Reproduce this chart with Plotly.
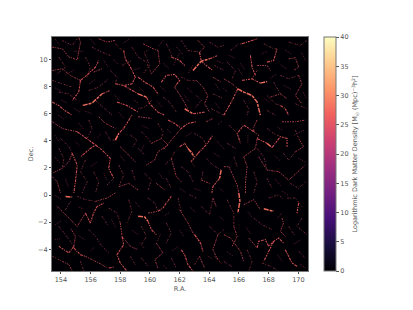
import plotly.graph_objects as go
from plotly.colors import sample_colorscale

x_ticks = list(range(154, 171, 2))
y_ticks = list(range(-4, 11, 2))
cb_ticks = list(range(0, 41, 5))
x_range = [153.4, 170.65]
y_range = [-5.6, 11.65]

# Filaments: [ (RA, Dec), ... ]
bright = [
 [(155.47,6.61),(156.10,6.78),(156.77,7.46)],
 [(165.92,7.83),(166.32,7.59),(166.88,7.34),(167.22,6.85),(167.44,5.89)],
 [(162.9,9.18),(163.46,9.87),(164.02,10.04)],
 [(167.44,8.25),(167.89,8.37)],
 [(157.67,4.05),(157.9,4.54)],
 [(159.2,-1.57),(159.65,-1.62),(159.87,-1.94)],
 [(167.67,-1.01),(168.0,-1.08),(168.34,-1.2)],
 [(165.99,0.15),(166.06,-0.47),(165.92,-1.33)],
 [(167.89,3.81),(168.23,3.51)],
 [(162.34,6.36),(162.9,5.99)],
 [(162.56,3.44),(163.0,2.82)],
 [(164.8,1.84),(164.69,1.23)],
 [(154.31,-0.1),(154.76,-0.15)],
 [(159.2,7.46),(159.76,7.22)],
]
mid = [
 [(156.77,7.46),(157.33,7.71)],
 [(153.42,6.85),(153.86,6.6),(154.31,6.19),(154.76,5.89)],
 [(155.32,8.45),(155.65,8.74),(156.33,9.43),(156.55,9.92)],
 [(155.32,8.45),(155.2,7.59),(154.76,6.97)],
 [(158.23,10.66),(158.34,10.04),(158.68,9.43),(159.01,8.69),(158.79,8.2),(158.23,8.08)],
 [(157.67,8.2),(158.23,8.08),(159.2,7.47)],
 [(157.78,6.85),(158.45,6.6),(159.2,6.11)],
 [(164.02,10.04),(164.58,10.29)],
 [(163.34,10.53),(163.46,9.87),(163.79,9.55),(164.24,9.18)],
 [(161.44,10.17),(162.0,9.92),(162.34,9.55)],
 [(159.2,8.69),(159.65,8.32),(160.21,7.96),(160.54,7.46)],
 [(160.77,8.32),(161.1,8.82),(161.66,8.89),(162.0,8.45),(161.66,7.96)],
 [(159.76,7.22),(159.98,6.73),(160.54,6.11),(160.99,5.89)],
 [(162.9,5.99),(163.68,6.11)],
 [(165.92,7.83),(165.54,6.97),(164.98,5.89)],
 [(166.77,10.29),(166.88,9.43),(167.11,8.82)],
 [(166.21,11.15),(166.88,11.4),(167.22,11.52)],
 [(167.89,9.8),(168.34,9.92),(168.56,10.78)],
 [(166.21,8.45),(166.88,8.57),(167.44,8.25)],
 [(168.79,6.6),(169.12,6.36),(169.35,5.89)],
 [(158.23,4.91),(158.57,5.53),(158.79,5.895)],
 [(157.67,4.05),(157.9,4.54),(158.23,4.91)],
 [(155.1,4.67),(155.77,4.17),(156.33,3.69),(155.99,3.44),(155.32,2.82)],
 [(156.33,3.69),(156.77,3.32),(157.33,2.7),(157.22,1.97),(157.56,1.23)],
 [(154.76,3.07),(155.1,2.21),(154.98,0.98),(154.87,0.15)],
 [(161.22,5.53),(161.66,5.28),(162.11,4.91),(162.56,5.28),(163.12,5.4)],
 [(162.0,3.56),(162.34,3.81),(162.56,3.44),(162.9,3.07)],
 [(163.23,3.07),(162.78,2.46)],
 [(164.69,1.23),(164.24,0.62),(164.17,0.15)],
 [(163.23,3.07),(163.79,3.69),(164.24,4.42)],
 [(167.22,4.17),(167.89,3.81)],
 [(168.23,3.51),(168.79,4.3),(169.24,4.17),(169.24,3.56)],
 [(167.0,4.67),(166.32,5.16),(165.88,4.54),(166.1,3.81)],
 [(155.65,-1.33),(155.99,-2.06),(156.2,-1.33),(156.44,-0.84),(156.89,-0.59)],
 [(154.87,-3.9),(155.32,-4.4),(155.65,-4.52)],
 [(154.87,-3.78),(154.54,-4.27),(153.86,-3.78)],
 [(158.12,-3.05),(158.23,-3.66),(157.78,-4.4),(158.0,-5.01),(158.45,-5.6)],
 [(159.87,-1.94),(160.1,-2.55),(160.43,-2.92)],
 [(160.54,-1.2),(160.88,-0.96),(161.1,-0.59),(161.44,-0.1)],
 [(162.11,-4.03),(162.34,-4.4),(162.56,-5.13),(162.9,-5.6)],
 [(163.01,-2.92),(163.41,-3.54),(163.57,-4.15)],
 [(167.22,-3.9),(167.33,-3.41),(167.78,-3.29),(168.0,-3.78),(168.34,-3.41),(168.68,-3.17),(169.0,-3.54)],
 [(168.34,-3.41),(167.89,-4.4),(167.67,-4.89)],
 [(169.12,-4.03),(169.57,-5.01),(169.91,-5.25)],
 [(170.02,-0.59),(169.91,-1.33)],
 [(157.22,-5.38),(157.56,-5.31)],
]
faint = [
 [(153.42,10.9),(154.09,10.78),(154.54,10.17),(155.1,9.97),(155.32,11.27),(155.2,11.64)],
 [(153.42,9.18),(154.09,9.31),(154.65,8.8),(155.32,8.45)],
 [(156.2,9.06),(156.77,9.31)],
 [(156.55,11.52),(157.11,11.27),(157.67,11.4)],
 [(160.54,10.66),(160.66,9.67),(160.1,8.94)],
 [(159.54,11.15),(160.21,10.78),(160.54,10.66)],
 [(161.66,7.96),(162.11,7.22),(162.56,6.36)],
 [(163.12,8.45),(163.57,7.96),(163.9,7.34),(163.68,6.73),(164.02,6.11)],
 [(164.24,8.69),(164.8,8.32)],
 [(163.23,11.4),(163.68,10.9),(163.34,10.53)],
 [(167.22,9.55),(167.89,9.55),(168.12,9.18)],
 [(169.35,10.04),(169.8,10.12),(170.02,9.43),(169.68,9.18)],
 [(170.02,8.82),(170.24,8.2),(169.8,7.34),(170.24,6.73)],
 [(164.98,8.57),(165.54,8.2),(165.92,7.83)],
 [(168.12,7.22),(168.79,7.46),(169.24,7.1)],
 [(154.76,3.07),(154.54,2.46),(154.09,1.97),(153.42,1.6)],
 [(153.42,5.4),(154.09,4.91),(154.54,4.79),(155.1,4.67)],
 [(158.0,3.56),(158.45,3.07),(159.01,2.46)],
 [(157.9,0.62),(158.57,0.86),(159.2,0.37)],
 [(153.42,1.35),(153.75,0.98),(153.97,0.15)],
 [(156.55,5.77),(157.0,5.28),(157.67,4.91)],
 [(160.1,3.81),(160.77,4.17),(161.22,3.69),(160.54,3.19),(160.32,2.58),(159.76,2.21)],
 [(163.79,5.4),(164.24,5.65)],
 [(161.44,2.7),(161.78,1.35),(162.11,0.98)],
 [(163.46,1.1),(164.02,0.86)],
 [(162.11,4.91),(161.55,4.17),(160.88,3.32)],
 [(159.2,5.77),(160.1,5.65)],
 [(160.43,0.86),(160.99,0.37)],
 [(167.0,4.67),(167.33,4.42),(167.22,4.17),(167.11,3.44),(166.32,2.82)],
 [(167.22,5.53),(167.0,5.04),(167.0,4.67)],
 [(168.9,5.4),(169.8,5.4),(170.47,5.53)],
 [(164.98,2.09),(165.32,2.09),(165.88,0.74),(165.99,0.15)],
 [(166.32,2.82),(166.55,2.09),(166.44,0.98),(166.44,0.15)],
 [(168.68,1.72),(169.35,1.1),(170.47,2.21)],
 [(169.8,3.19),(170.36,3.56),(170.02,4.17)],
 [(167.33,2.82),(167.89,1.84),(168.68,1.72)],
 [(153.75,-0.84),(154.2,-1.33),(155.1,-2.31),(155.65,-1.33)],
 [(154.87,-3.78),(154.98,-3.05),(154.65,-2.43)],
 [(158.0,-2.06),(158.12,-3.05),(158.68,-3.78),(159.2,-4.03)],
 [(155.65,-4.52),(156.33,-4.89),(156.77,-5.13),(157.11,-5.38)],
 [(154.09,-4.89),(154.54,-5.13),(154.76,-5.6)],
 [(156.33,-0.47),(157.11,-0.22),(157.67,0.15)],
 [(159.87,-1.33),(160.54,-1.2)],
 [(162.0,-1.08),(162.56,-2.06),(162.9,-2.8),(163.34,-3.42)],
 [(164.24,-0.22),(164.46,-0.84)],
 [(160.43,-3.54),(160.88,-4.27),(160.32,-4.77),(160.54,-5.38)],
 [(164.58,-2.92),(164.24,-4.03),(164.58,-4.77)],
 [(163.34,-4.52),(163.68,-5.38)],
 [(168.9,-1.7),(169.0,-2.06),(168.79,-2.68),(169.12,-3.05)],
 [(165.65,-2.31),(165.88,-3.05),(165.54,-3.78)],
 [(166.32,-0.71),(167.0,-0.34),(167.44,-1.08)],
 [(164.98,-2.92),(165.43,-3.17),(166.1,-4.15),(166.32,-4.89)],
 [(166.66,-3.17),(167.22,-3.9)],
]
haze = [
 [(154.09,11.39),(154.76,11.03),(155.1,11.52)],
 [(156.1,10.9),(156.77,10.53),(157.33,10.29)],
 [(157.67,11.15),(158.12,10.66)],
 [(158.79,10.9),(159.2,10.17)],
 [(155.65,10.17),(155.99,9.43),(155.77,8.69)],
 [(153.42,8.45),(154.09,8.2),(154.76,7.96)],
 [(155.88,7.71),(156.55,7.96),(157.22,8.57)],
 [(153.86,7.59),(154.53,7.46),(155.1,6.97)],
 [(153.86,10.17),(154.31,9.43),(153.75,8.94)],
 [(157.33,9.18),(157.78,8.69),(157.67,8.2)],
 [(156.33,6.97),(157.0,6.36),(157.45,5.89)],
 [(158.12,9.55),(158.79,9.92)],
 [(159.65,10.41),(159.98,9.55),(159.54,8.94)],
 [(161.1,11.15),(161.44,10.41),(161.44,10.17)],
 [(162.11,11.4),(162.56,10.66),(163.34,10.53)],
 [(164.02,11.27),(164.58,10.9),(164.98,11.03)],
 [(162.11,8.69),(162.56,8.45),(163.12,8.45)],
 [(160.88,7.22),(161.33,6.85),(161.78,6.11)],
 [(163.12,7.34),(163.46,6.97),(163.0,6.36)],
 [(164.24,7.46),(164.98,7.1)],
 [(159.2,10.17),(159.76,9.8),(160.1,8.94)],
 [(164.35,9.55),(164.98,9.18)],
 [(164.13,6.36),(164.98,5.89)],
 [(160.1,6.97),(159.65,6.48),(159.2,6.36)],
 [(165.43,10.66),(165.99,11.15),(166.21,11.15)],
 [(165.2,9.8),(165.76,9.18),(165.54,8.57)],
 [(167.67,11.15),(168.34,10.78),(168.56,10.78)],
 [(169.35,11.27),(170.13,11.03),(170.58,11.4)],
 [(168.79,8.82),(169.35,8.57),(170.02,8.82)],
 [(167.89,7.34),(168.45,6.73),(168.79,6.6)],
 [(166.32,6.97),(166.66,6.36),(166.55,5.89)],
 [(167.89,6.24),(168.45,5.89)],
 [(169.8,6.73),(170.58,6.36)],
 [(168.34,8.32),(168.79,7.46)],
 [(167.22,9.18),(166.88,8.57)],
 [(153.97,4.18),(154.54,3.56),(154.76,3.07)],
 [(155.88,5.53),(156.1,4.91),(155.77,4.17)],
 [(157.0,4.67),(157.33,4.05),(157.67,4.05)],
 [(158.68,4.42),(159.12,4.05),(158.79,3.44)],
 [(155.65,2.58),(155.32,1.72),(155.77,0.98),(155.43,0.15)],
 [(156.2,1.72),(156.55,0.98),(156.33,0.15)],
 [(157.9,2.21),(158.23,1.47),(157.9,0.62)],
 [(158.79,1.84),(159.01,1.1)],
 [(153.86,3.44),(154.2,2.7),(154.09,1.97)],
 [(157.11,0.74),(157.56,1.23)],
 [(159.42,4.67),(159.87,4.17),(160.1,3.81)],
 [(160.54,5.28),(160.88,4.67),(160.77,4.17)],
 [(163.0,4.54),(163.57,4.17),(163.79,3.69)],
 [(161.66,3.19),(161.44,2.7),(160.99,2.21)],
 [(159.65,1.6),(160.1,1.1),(159.87,0.37)],
 [(162.11,2.09),(162.56,1.72),(162.9,0.98)],
 [(163.79,2.7),(164.24,2.21),(164.8,1.84)],
 [(161.1,1.23),(161.44,0.49)],
 [(163.57,1.72),(163.46,1.1)],
 [(159.2,3.44),(159.65,2.95)],
 [(165.32,5.16),(165.65,4.79),(165.88,4.54)],
 [(167.89,4.91),(168.34,4.54),(168.79,4.3)],
 [(169.8,4.79),(170.02,4.17)],
 [(165.2,3.81),(165.76,3.44),(165.88,3.44)],
 [(167.22,3.44),(167.67,2.82),(167.89,1.84)],
 [(169.0,3.07),(169.35,2.58),(169.8,3.19)],
 [(167.0,1.72),(167.22,0.98),(167.0,0.15)],
 [(167.89,1.23),(168.23,0.49)],
 [(169.46,0.86),(170.02,0.49),(170.47,0.98)],
 [(165.65,2.82),(165.88,2.09)],
 [(155.1,-0.1),(155.65,-0.34),(156.33,-0.47)],
 [(157.22,-0.96),(157.78,-1.33),(158.0,-2.06)],
 [(153.86,-2.31),(154.31,-2.92),(154.87,-3.78)],
 [(155.88,-2.55),(156.33,-3.05),(156.77,-3.78),(157.22,-4.27)],
 [(153.42,-4.52),(154.09,-4.89)],
 [(155.32,-4.89),(155.54,-5.6)],
 [(158.57,-0.34),(158.79,-1.2),(158.45,-2.06)],
 [(158.68,-4.52),(159.01,-5.13)],
 [(156.77,-1.57),(157.22,-2.31)],
 [(154.31,-1.08),(154.65,-0.47)],
 [(159.87,-0.22),(160.32,-0.59),(160.54,-1.2)],
 [(159.42,-2.31),(159.76,-3.05),(159.42,-3.66)],
 [(161.1,-2.06),(161.44,-2.8),(161.1,-3.54)],
 [(163.46,-0.84),(164.02,-1.45),(164.24,-0.22)],
 [(161.89,-0.22),(162.11,-1.2)],
 [(164.02,-2.31),(164.58,-2.92),(164.98,-2.55)],
 [(161.44,-4.64),(161.78,-5.38)],
 [(159.42,-4.64),(159.87,-5.26)],
 [(163.0,-5.13),(163.34,-4.52)],
 [(164.35,-4.52),(164.91,-5.13)],
 [(162.67,0.02),(163.12,-0.22)],
 [(165.2,-0.34),(165.65,-1.33),(165.65,-2.31)],
 [(167.0,-1.7),(167.55,-2.19),(168.23,-2.55)],
 [(169.24,-0.22),(169.8,-0.22),(170.24,-0.84)],
 [(170.24,-1.7),(169.91,-2.31),(170.58,-2.92)],
 [(166.55,-4.03),(166.88,-4.89),(166.66,-5.6)],
 [(164.98,-4.89),(165.65,-5.38)],
 [(169.35,-2.31),(169.8,-3.05)],
 [(167.55,-5.01),(168.12,-5.25),(168.68,-5.6)],
 [(170.02,-4.15),(170.47,-4.64)],
 [(168.0,-0.22),(168.68,0.02),(169.0,-0.34)],
]
wisps = [
 [(153.6,11.5),(153.9,11.1)],[(156.0,11.5),(156.3,11.1)],[(158.6,11.5),(158.2,11.2)],
 [(160.9,11.4),(160.6,11.0)],[(161.8,10.9),(162.2,10.4)],[(159.9,10.7),(159.6,10.5)],
 [(154.9,10.6),(155.5,10.6)],[(157.5,10.0),(157.9,9.6)],[(156.9,9.9),(157.2,9.4)],
 [(154.3,8.9),(154.9,9.2)],[(158.9,9.2),(159.4,9.4)],[(160.9,9.7),(161.3,9.3)],
 [(162.6,9.0),(162.9,9.6)],[(161.6,9.6),(162.0,10.5)],[(164.5,9.9),(164.9,9.7)],
 [(165.3,10.3),(165.7,10.1)],[(166.1,9.7),(166.4,9.2)],[(167.5,10.4),(167.9,10.6)],
 [(168.8,9.6),(169.2,9.3)],[(169.1,10.7),(169.5,10.4)],[(170.2,10.5),(170.5,9.9)],
 [(168.5,8.9),(168.1,8.6)],[(166.2,8.9),(165.9,9.4)],[(164.4,8.2),(164.7,7.7)],
 [(162.5,7.9),(162.9,7.5)],[(160.7,8.0),(161.1,7.6)],[(159.3,7.9),(159.6,7.6)],
 [(157.6,7.4),(157.9,7.0)],[(155.9,8.2),(156.3,8.5)],[(154.0,7.0),(154.4,6.8)],
 [(153.6,7.9),(154.0,7.7)],[(155.6,6.2),(156.1,6.0)],[(154.9,6.4),(155.3,6.1)],
 [(157.9,6.1),(158.2,5.7)],[(158.9,7.0),(159.2,6.8)],[(160.8,6.5),(160.5,6.9)],
 [(162.6,6.9),(162.3,7.4)],[(164.4,6.8),(164.7,6.4)],[(165.2,7.6),(164.9,7.9)],
 [(168.0,6.9),(167.7,7.1)],[(169.5,7.8),(169.0,8.1)],[(170.3,7.6),(170.55,7.1)],
 [(153.8,5.9),(154.2,5.6)],[(155.2,5.3),(155.5,4.9)],[(156.7,4.5),(156.4,4.2)],
 [(159.5,5.1),(159.9,4.9)],[(161.4,4.6),(161.1,4.9)],[(162.8,4.6),(162.4,4.3)],
 [(164.6,5.2),(164.9,5.5)],[(164.5,4.0),(165.0,3.4)],[(166.6,4.4),(166.6,3.8)],
 [(168.6,5.0),(168.9,4.8)],[(169.7,4.4),(170.4,4.8)],[(153.6,4.4),(153.9,3.9)],
 [(155.0,3.9),(155.3,3.6)],[(158.0,2.9),(158.3,2.5)],[(159.6,3.7),(159.4,3.2)],
 [(164.3,3.1),(164.7,2.8)],[(168.4,2.9),(168.8,2.5)],[(170.0,2.7),(170.5,2.4)],
 [(153.6,2.8),(153.9,2.4)],[(156.4,2.4),(156.0,2.1)],[(160.6,1.6),(160.9,1.2)],
 [(163.0,2.1),(162.7,2.6)],[(168.4,1.2),(168.8,0.7)],[(154.3,1.2),(154.5,0.6)],
 [(156.9,1.6),(157.1,1.1)],[(162.0,0.5),(162.4,0.2)],[(163.0,0.5),(163.4,0.3)],
 [(164.7,0.5),(165.0,0.2)],[(168.9,0.3),(169.3,0.0)],[(153.6,0.0),(154.0,-0.3)],
 [(155.2,-0.9),(155.5,-1.0)],[(157.4,-1.8),(157.7,-2.4)],[(159.0,-0.5),(159.3,-0.9)],
 [(161.0,-1.5),(161.3,-1.3)],[(162.7,-0.9),(163.1,-1.3)],[(164.7,-1.6),(165.0,-1.9)],
 [(166.6,-1.2),(166.9,-1.7)],[(168.6,-1.7),(168.9,-1.3)],[(154.0,-1.9),(153.6,-2.2)],
 [(155.2,-3.0),(155.6,-3.3)],[(158.8,-2.6),(159.2,-2.9)],[(160.7,-2.9),(160.5,-3.4)],
 [(162.0,-2.6),(162.3,-3.1)],[(166.5,-2.4),(166.8,-2.9)],[(169.7,-3.6),(170.2,-3.3)],
 [(153.6,-3.3),(154.0,-3.2)],[(156.0,-4.1),(156.3,-3.8)],[(159.3,-3.5),(159.6,-3.9)],
 [(161.5,-4.1),(161.9,-3.8)],[(163.9,-4.5),(164.2,-4.7)],[(165.2,-4.2),(165.6,-4.5)],
 [(168.6,-4.4),(168.9,-4.9)],[(160.9,-5.2),(161.2,-5.5)],[(170.1,-5.1),(170.5,-5.4)],
]
levels = [
 (bright, 28, 1.5, 0.95, "5px,1px,3px,1px"),
 (mid, 26, 1.1, 0.85, "3px,1px,1px,1px,2px,1px"),
 (faint, 25, 1.0, 0.7, "2px,1px,1px,1px"),
 (haze, 25, 0.9, 0.55, "2px,1px,1px,2px"),
 (wisps, 24, 0.9, 0.45, "1px,1px"),
]

def flat(polys, i):
    out = []
    for p in polys:
        out += [q[i] for q in p] + [None]
    return out

GREY = "#555555"
fig = go.Figure()
fig.add_trace(go.Heatmap(
    x=x_range, y=y_range, z=[[0, 0], [0, 0]], zmin=0, zmax=40, colorscale="Magma",
    hoverinfo="skip",
    colorbar=dict(
        x=1.0625, xanchor="left", y=0.5, yanchor="middle", len=1, lenmode="fraction",
        thickness=11.5, thicknessmode="pixels", outlinecolor="#777777", outlinewidth=1,
        tickmode="array", tickvals=cb_ticks, ticks="outside", ticklen=3, tickwidth=1,
        tickcolor=GREY, tickfont=dict(size=6.5, color=GREY, family="DejaVu Sans"),
        xpad=0, ypad=0,
        title=dict(text="Logarithmic Dark Matter Density [M<sub>☉</sub> (Mpc)<sup>−3</sup>h<sup>2</sup>]",
                   side="right", font=dict(size=6.5, color=GREY, family="DejaVu Sans")),
    ),
))
for polys, val, width, alpha, dash in levels[::-1]:
    color = sample_colorscale("Magma", [val / 40])[0]
    fig.add_trace(go.Scatter(x=flat(polys, 0), y=flat(polys, 1), mode="lines", hoverinfo="skip",
                             opacity=alpha, showlegend=False,
                             line=dict(color=color, width=width, dash=dash)))
axis = dict(showgrid=False, zeroline=False, showline=True, mirror=True, linecolor="#777777", linewidth=1,
            ticks="outside", ticklen=2, tickwidth=1, tickcolor=GREY,
            tickfont=dict(size=6.5, color=GREY, family="DejaVu Sans"))
fig.update_layout(
    width=400, height=299, margin=dict(l=44, r=100, t=29, b=36),
    paper_bgcolor="white", plot_bgcolor="black", showlegend=False,
    font=dict(family="DejaVu Sans", color=GREY, size=6.5),
    xaxis=dict(axis, range=x_range, tickvals=x_ticks,
               title=dict(text="R.A.", standoff=3, font=dict(size=6.5, color=GREY))),
    yaxis=dict(axis, range=y_range, tickvals=y_ticks,
               title=dict(text="Dec.", standoff=3, font=dict(size=6.5, color=GREY))),
)
fig.write_html("out.html")
